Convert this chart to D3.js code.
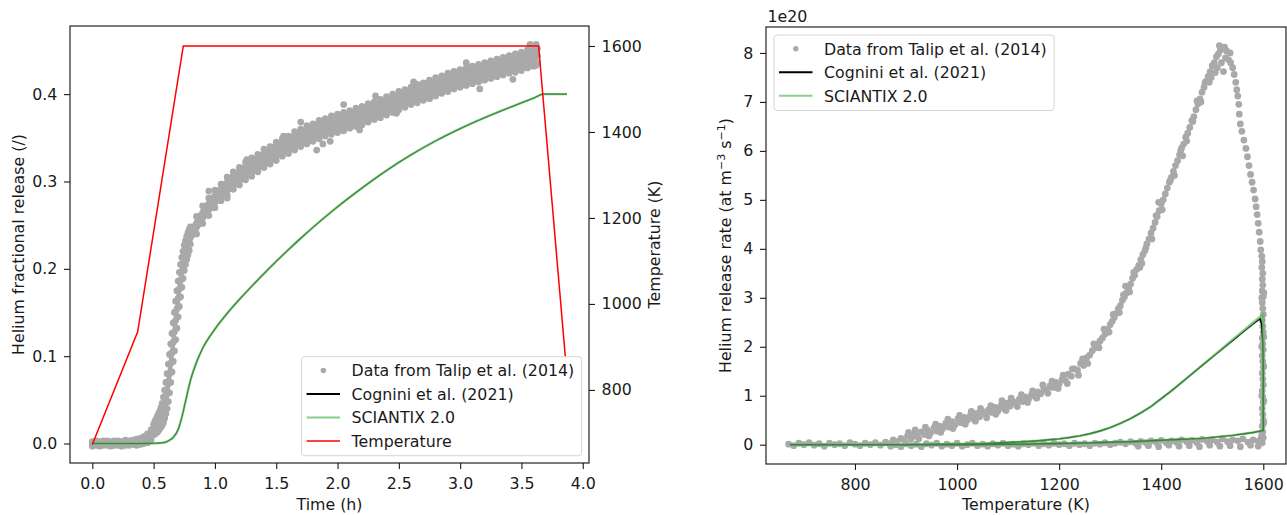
<!DOCTYPE html>
<html>
<head>
<meta charset="utf-8">
<script src="https://cdn.jsdelivr.net/npm/d3@7"></script>
<style>
body { margin: 0; background: #fff; }
svg { font-family: "DejaVu Sans", sans-serif; }
</style>
</head>
<body>
<svg id="chart" width="1287" height="515"></svg>
<script>
//---- values ----

// left panel: Talip et al. (2014) points, read as lower edge / middle / upper edge of the band at each time (h)
var talipTime = [0.00,0.03,0.06,0.09,0.12,0.15,0.18,0.21,0.24,0.27,0.30,0.33,0.36,0.39,0.42,0.45,0.48,
	0.50,0.51,0.52,0.53,0.54,0.55,0.56,0.57,0.58,0.59,0.60,0.61,0.62,0.63,0.64,0.65,0.66,0.67,0.68,0.69,0.70,0.71,0.72,0.73,0.74,0.75,0.76,0.77,0.78,0.79,
	0.80,0.85,0.90,0.95,1.00,1.05,1.10,1.15,1.20,1.25,
	1.30,1.35,1.40,1.45,1.50,1.55,1.60,1.65,1.70,1.75,
	1.80,1.85,1.90,1.95,2.00,2.05,2.10,2.15,2.20,2.25,
	2.30,2.35,2.40,2.45,2.50,2.55,2.60,2.65,2.70,2.75,
	2.80,2.85,2.90,2.95,3.00,3.05,3.10,3.15,3.20,3.25,
	3.30,3.35,3.40,3.45,3.50,3.55,3.60,3.62,3.63];
var talipLow = [-0.003,-0.002,-0.003,-0.002,-0.002,-0.003,-0.002,-0.002,-0.003,-0.002,-0.002,-0.001,-0.002,-0.001,0.000,0.001,0.004,
	.010,.011,.012,.013,.015,.017,.019,.021,.024,.029,.034,.040,.048,.058,.070,.082,.094,.106,.119,.132,.145,.157,.168,.179,.189,.198,.205,.211,.216,.221,
	.228,.240,.252,.261,.270,.278,.284,.291,.296,.302,
	.306,.311,.316,.320,.324,.329,.332,.336,.340,.343,
	.346,.349,.352,.354,.356,.358,.361,.363,.365,.368,
	.371,.373,.376,.379,.382,.385,.388,.390,.393,.395,
	.398,.401,.403,.406,.408,.410,.412,.414,.416,.418,
	.420,.422,.424,.425,.427,.430,.432,.433,.436];
var talipMid = [0.000,0.000,-0.001,0.000,0.001,0.000,0.000,0.001,0.000,0.001,0.001,0.002,0.002,0.003,0.004,0.006,0.010,
	.016,.018,.020,.022,.024,.027,.030,.033,.038,.045,.052,.060,.069,.080,.092,.104,.116,.128,.141,.154,.166,.177,.187,.197,.206,.214,.220,.225,.229,.233,
	.238,.251,.262,.272,.280,.288,.295,.301,.307,.312,
	.317,.322,.327,.331,.335,.339,.343,.347,.351,.354,
	.357,.360,.362,.365,.367,.369,.371,.374,.376,.379,
	.381,.384,.387,.390,.393,.396,.398,.401,.403,.406,
	.409,.411,.414,.416,.418,.420,.422,.424,.426,.428,
	.430,.432,.434,.435,.437,.440,.443,.445,.444];
var talipHigh = [0.002,0.003,0.002,0.003,0.003,0.002,0.003,0.003,0.002,0.004,0.003,0.004,0.005,0.006,0.008,0.011,0.016,
	.022,.025,.028,.031,.034,.037,.041,.046,.053,.061,.070,.080,.091,.102,.114,.126,.138,.150,.163,.175,.186,.196,.205,.213,.220,.227,.232,.237,.241,.245,
	.248,.260,.272,.281,.290,.297,.305,.311,.316,.322,
	.327,.331,.337,.340,.345,.349,.352,.357,.360,.364,
	.366,.370,.372,.375,.377,.379,.381,.384,.386,.389,
	.391,.394,.397,.400,.403,.405,.408,.411,.413,.416,
	.419,.421,.424,.426,.428,.430,.432,.434,.436,.438,
	.440,.442,.444,.446,.448,.451,.454,.457,.452];
// stray points off the band [time, release]
var talipStray = [[0.95,0.289],[1.10,0.281],[1.26,0.325],[1.56,0.352],[1.70,0.368],[1.83,0.336],[1.88,0.343],[1.94,0.346],
	[2.05,0.388],[2.18,0.359],[2.31,0.398],[2.48,0.378],[2.62,0.414],[2.75,0.395],[3.05,0.436],[3.16,0.406],[3.43,0.417],[3.57,0.457]];

var modelTime = [0,0.30,0.50,0.58,0.62,0.66,0.70,0.73,0.76,0.80,0.85,0.90,1.00,1.10,1.20,1.30,1.40,1.50,1.60,1.70,1.80,1.90,2.00,2.20,2.40,2.60,2.80,3.00,3.20,3.40,3.60,3.68,3.87];
var cogniniRelease = [0,0,0.0003,0.001,0.003,0.007,0.016,0.030,0.048,0.072,0.093,0.109,0.131,0.149,0.165,0.180,0.1945,0.2085,0.222,0.235,0.2475,0.2595,0.271,0.2925,0.3125,0.3305,0.3465,0.3605,0.373,0.3845,0.3955,0.400,0.400];
var sciantixRelease = [0,0,0.0003,0.001,0.003,0.007,0.016,0.030,0.048,0.072,0.093,0.109,0.131,0.149,0.165,0.180,0.1945,0.2085,0.222,0.235,0.2475,0.2595,0.271,0.2925,0.3125,0.3305,0.3465,0.3605,0.373,0.3845,0.3955,0.400,0.400];

var tempTime = [0, 0.37, 0.742, 3.64, 3.858];
var tempK = [673, 935, 1600, 1600, 877];

var timeTicks = [0, 0.5, 1, 1.5, 2, 2.5, 3, 3.5, 4];
var fracTicks = [0, 0.1, 0.2, 0.3, 0.4];
var tempTicks = [800, 1000, 1200, 1400, 1600];

// right panel: release rate (1e20 at m-3 s-1) against temperature (K)
var talipRate = [
	// ramp start and cool-down, near zero
	[670,0.01],[680,-0.02],[690,0.03],[700,0.0],[710,0.04],[720,-0.01],[730,0.02],[740,-0.03],[750,0.03],[760,0.0],[770,0.02],[780,-0.02],[790,0.04],[800,0.01],[810,-0.02],[820,0.03],[830,0.0],[840,0.04],[850,-0.01],
	[870,-0.03],[880,0.0],[890,-0.04],[900,0.02],[910,-0.02],[920,0.01],[930,-0.04],[940,0.02],[950,-0.01],[960,0.03],[970,-0.03],[980,0.01],[990,-0.02],[1000,0.03],[1010,-0.03],[1020,0.0],[1030,0.03],[1040,-0.02],[1050,0.01],[1060,-0.03],
	[1070,0.02],[1080,-0.01],[1090,0.03],[1100,-0.02],[1110,0.01],[1120,-0.03],[1130,0.02],[1140,0.0],[1150,0.03],[1160,-0.02],[1170,0.02],[1180,-0.01],[1190,0.03],[1200,0.0],[1210,0.02],[1220,-0.02],[1230,0.03],[1240,0.0],[1250,0.02],[1260,-0.02],
	[1270,0.03],[1280,0.01],[1290,0.04],[1300,0.0],[1310,0.03],[1320,0.05],[1330,0.02],[1340,0.06],[1350,0.03],[1360,0.07],[1370,0.04],[1380,0.08],[1390,0.05],[1400,0.09],[1410,0.04],[1420,0.08],[1430,0.05],[1440,0.10],[1450,0.06],[1460,0.09],
	[1470,0.04],[1480,0.11],[1490,0.07],[1500,0.10],[1510,0.05],[1520,0.12],[1530,0.06],[1540,0.10],[1550,0.08],[1560,0.12],[1570,0.05],[1580,0.10],[1590,0.07],[1595,0.12],
	[1355,-0.03],[1375,-0.02],[1395,-0.04],[1415,-0.01],[1435,-0.03],[1455,-0.02],[1475,-0.04],[1495,-0.01],[1515,-0.03],[1535,-0.02],[1555,-0.04],[1575,-0.01],[1590,-0.03],
	// heating ramp
	[860,0.05],[868,0.02],[875,0.10],[882,0.06],[890,0.13],[896,0.09],[903,0.18],[910,0.12],[916,0.22],[922,0.17],[930,0.26],[936,0.21],[942,0.30],[948,0.24],[955,0.35],[960,0.28],[966,0.38],[972,0.33],[978,0.44],[984,0.36],
	[990,0.47],[996,0.41],[1002,0.53],[1008,0.45],[1014,0.56],[1020,0.50],[1026,0.60],[1032,0.53],[1038,0.64],[1044,0.57],[1050,0.68],[1056,0.62],[1062,0.71],[1068,0.66],[1074,0.76],[1080,0.69],[1086,0.80],[1092,0.74],[1098,0.85],[1104,0.79],
	[1110,0.88],[1116,0.83],[1122,0.93],[1128,0.88],[1134,0.97],[1140,0.93],[1146,1.02],[1152,0.99],[1158,1.08],[1164,1.04],[1170,1.14],[1176,1.10],[1182,1.20],[1188,1.17],[1194,1.27],[1200,1.24],[1206,1.34],[1212,1.31],[1218,1.44],[1224,1.40],
	[1230,1.55],[1236,1.52],[1242,1.66],[1248,1.62],[1254,1.78],[1260,1.83],[1265,1.92],[1270,1.98],[1275,2.05],[1280,2.12],[1285,2.18],[1290,2.26],[1295,2.35],[1300,2.45],
	[1304,2.52],[1308,2.60],[1312,2.68],[1316,2.78],[1320,2.84],[1324,2.95],[1328,3.02],[1332,3.10],[1336,3.20],[1340,3.28],[1344,3.40],[1348,3.46],[1352,3.58],[1356,3.66],[1360,3.78],[1364,3.88],[1368,3.96],[1372,4.10],[1376,4.20],[1380,4.32],
	[1384,4.42],[1388,4.54],[1392,4.66],[1396,4.78],[1400,4.92],[1404,5.00],[1408,5.12],[1412,5.24],[1416,5.36],[1420,5.46],[1424,5.58],[1428,5.70],[1432,5.80],[1436,5.92],[1440,6.06],[1444,6.14],[1448,6.28],[1452,6.36],[1456,6.48],[1460,6.62],
	[1464,6.70],[1468,6.84],[1472,6.96],[1476,7.06],[1480,7.20],[1484,7.30],[1488,7.42],[1492,7.52],[1496,7.62],[1500,7.74],[1504,7.80],[1508,7.92],[1512,7.98],[1516,8.06],[1520,8.10],[1524,8.12],[1528,8.04],
	[1330,3.24],[1362,3.70],[1395,4.95],[1442,5.90],[1470,7.02],[1498,7.50],[1510,7.70],[1518,7.80],[1522,7.62],[1526,7.90],[1532,7.86],[1535,8.00],[1514,8.15],[1506,7.60],
	// looser points either side of the ramp
	[905,0.25],[918,0.30],[925,0.12],[938,0.36],[945,0.18],[958,0.42],[968,0.25],[982,0.52],[992,0.33],[1005,0.60],[1016,0.42],[1028,0.68],[1036,0.48],[1046,0.74],[1058,0.55],[1066,0.80],[1076,0.62],[1088,0.90],[1096,0.70],[1106,0.95],
	[1118,0.78],[1126,1.02],[1138,0.86],[1148,1.10],[1156,0.95],[1168,1.22],[1178,1.05],[1186,1.30],[1198,1.15],[1208,1.42],[1216,1.25],[1226,1.55],[1238,1.42],[1246,1.75],[1256,1.66],[1268,2.06],[1278,1.98],[1288,2.36],[1298,2.30],[1306,2.66],
	[1318,2.70],[1326,3.06],[1338,3.12],[1346,3.52],[1358,3.62],[1370,4.02],[1382,4.20],[1390,4.68],[1402,4.80],[1418,5.40],[1426,5.50],[1438,6.00],[1450,6.20],[1462,6.60],[1478,7.00],[1486,7.40],[1494,7.40],
	// past the peak, up to the hold
	[1536,7.80],[1540,7.70],[1543,7.56],[1546,7.40],[1548,7.25],[1550,7.12],[1552,6.95],[1553,6.75],[1555,6.55],[1558,6.40],[1562,6.22],[1566,6.05],[1569,5.88],[1572,5.70],[1575,5.52],[1578,5.36],[1581,5.20],[1584,5.02],[1586,4.86],[1588,4.70],
	[1590,4.52],[1592,4.34],[1594,4.15],[1595,3.98],
	// hold at 1600 K
	[1597,3.85],[1598,3.74],[1597,3.62],[1599,3.50],[1598,3.38],[1599,3.26],[1598,3.14],[1600,3.02],[1598,2.90],[1599,2.78],[1600,2.66],[1598,2.54],[1599,2.42],[1600,2.30],[1598,2.18],[1599,2.06],[1600,1.94],[1598,1.82],[1599,1.70],[1600,1.58],
	[1598,1.46],[1599,1.34],[1600,1.22],[1598,1.10],[1599,0.98],[1600,0.86],[1598,0.74],[1599,0.62],[1600,0.50],[1598,0.38],[1599,0.26],[1600,0.14],[1598,0.04],[1601,0.90],[1601,0.45],[1601,1.60],[1601,2.20],[1601,3.10],
	[1597,0.20],[1597,1.00],[1597,2.00],[1597,3.00]
];

// model curves: heating ramp up to 1600 K, hold, then cool-down
var cogniniT = [673,800,900,1000,1050,1100,1120,1140,1160,1180,1200,1220,1240,1260,1280,1300,1320,1340,1360,1380,1400,1420,1440,1460,1480,1500,1520,1540,1560,1580,1590,1594,1597,1599,1600,1600,
	1580,1560,1540,1520,1500,1480,1460,1440,1420,1400,1380,1360,1340,1300,1250,1200,1150,1100,1000,870];
var cogniniRate = [0,0,0.002,0.01,0.02,0.045,0.055,0.067,0.082,0.10,0.120,0.146,0.180,0.224,0.280,0.350,0.435,0.535,0.650,0.780,0.940,1.100,1.270,1.445,1.615,1.785,1.955,2.125,2.295,2.465,2.545,2.570,2.450,2.100,1.600,0.29,
	0.25,0.22,0.19,0.17,0.15,0.13,0.12,0.11,0.10,0.09,0.08,0.07,0.06,0.05,0.035,0.025,0.015,0.008,0,0];
var sciantixT = [673,800,900,1000,1050,1100,1120,1140,1160,1180,1200,1220,1240,1260,1280,1300,1320,1340,1360,1380,1400,1420,1440,1460,1480,1500,1520,1540,1560,1580,1590,1600,1600,
	1580,1560,1540,1520,1500,1480,1460,1440,1420,1400,1380,1360,1340,1300,1250,1200,1150,1100,1000,870];
var sciantixRate = [0,0,0.002,0.01,0.02,0.045,0.055,0.067,0.082,0.10,0.120,0.146,0.180,0.224,0.280,0.350,0.435,0.535,0.650,0.780,0.940,1.100,1.270,1.445,1.620,1.795,1.970,2.145,2.320,2.495,2.580,2.665,0.29,
	0.25,0.22,0.19,0.17,0.15,0.13,0.12,0.11,0.10,0.09,0.08,0.07,0.06,0.05,0.035,0.025,0.015,0.008,0,0];

var rateTicks = [0, 1, 2, 3, 4, 5, 6, 7, 8];
var kelvinTicks = [800, 1000, 1200, 1400, 1600];

var seriesLabels = ["Data from Talip et al. (2014)", "Cognini et al. (2021)", "SCIANTIX 2.0", "Temperature"];


//---- drawing ----
var FONT = 15.8;
var INK = "#1a1a1a";
var GRAY = "#a9a9a9";
var GREEN = "#55bb55";
var GREEN_OP = 0.7;
var DOT_R = 3.4;

var svg = d3.select("#chart");

// panel boxes in pixels
var L = {left: 70, right: 589, top: 26, bottom: 463};
var R = {left: 766, right: 1286, top: 27, bottom: 464};

var xTime = d3.scaleLinear().domain([-0.182, 4.051]).range([L.left, L.right]);
var yFrac = d3.scaleLinear().domain([-0.0223, 0.478]).range([L.bottom, L.top]);
var yTemp = d3.scaleLinear().domain([630, 1646.5]).range([L.bottom, L.top]);
var xKelvin = d3.scaleLinear().domain([625.7, 1644.5]).range([R.left, R.right]);
var yRate = d3.scaleLinear().domain([-0.394, 8.53]).range([R.bottom, R.top]);

var defs = svg.append("defs");
function clip(id, b) {
	defs.append("clipPath").attr("id", id).append("rect")
		.attr("x", b.left).attr("y", b.top)
		.attr("width", b.right - b.left).attr("height", b.bottom - b.top);
}
clip("clipL", L);
clip("clipR", R);

function styleAxis(g) {
	g.attr("font-size", FONT).attr("font-family", null).attr("color", INK);
	g.select(".domain").remove();
	g.selectAll(".tick line").attr("stroke-width", 1.1);
}

// left panel data
var gl = svg.append("g").attr("clip-path", "url(#clipL)");

// the points are so dense that they merge into one band: fill it, then put the points on top
var band = d3.area()
	.x(function(d, i) { return xTime(talipTime[i]); })
	.y0(function(d, i) { return yFrac(talipLow[i]); })
	.y1(function(d, i) { return yFrac(talipHigh[i]); });
gl.append("path").datum(talipMid)
	.attr("d", band)
	.attr("fill", GRAY);

var bandPts = [];
talipTime.forEach(function(t, i) {
	bandPts.push([t, talipLow[i]], [t, talipMid[i]], [t, talipHigh[i]]);
});
talipStray.forEach(function(p) { bandPts.push(p); });

gl.selectAll("circle.talip")
	.data(bandPts)
	.enter().append("circle")
	.attr("class", "talip")
	.attr("cx", function(d) { return xTime(d[0]); })
	.attr("cy", function(d) { return yFrac(d[1]); })
	.attr("r", DOT_R)
	.attr("fill", GRAY);

var fracLine = d3.line()
	.curve(d3.curveMonotoneX)
	.x(function(d, i) { return xTime(modelTime[i]); })
	.y(function(d) { return yFrac(d); });

gl.append("path").datum(cogniniRelease)
	.attr("d", fracLine).attr("fill", "none")
	.attr("stroke", "#000").attr("stroke-width", 1.1);
gl.append("path").datum(sciantixRelease)
	.attr("d", fracLine).attr("fill", "none")
	.attr("stroke", GREEN).attr("stroke-opacity", GREEN_OP).attr("stroke-width", 2.4);

var tempLine = d3.line()
	.x(function(d, i) { return xTime(tempTime[i]); })
	.y(function(d) { return yTemp(d); });
gl.append("path").datum(tempK)
	.attr("d", tempLine).attr("fill", "none")
	.attr("stroke", "#ff0000").attr("stroke-width", 1.5);

// left panel frame and axes
svg.append("rect")
	.attr("x", L.left).attr("y", L.top)
	.attr("width", L.right - L.left).attr("height", L.bottom - L.top)
	.attr("fill", "none").attr("stroke", "#222").attr("stroke-width", 1.2);

svg.append("g")
	.attr("transform", "translate(0," + L.bottom + ")")
	.call(d3.axisBottom(xTime).tickValues(timeTicks).tickFormat(d3.format(".1f")).tickSize(6).tickPadding(8.3))
	.call(styleAxis);

svg.append("g")
	.attr("transform", "translate(" + L.left + ",0)")
	.call(d3.axisLeft(yFrac).tickValues(fracTicks).tickFormat(d3.format(".1f")).tickSize(6).tickPadding(6.6))
	.call(styleAxis);

svg.append("g")
	.attr("transform", "translate(" + L.right + ",0)")
	.call(d3.axisRight(yTemp).tickValues(tempTicks).tickFormat(d3.format("d")).tickSize(6).tickPadding(6.6))
	.call(styleAxis);

svg.append("text")
	.attr("x", (L.left + L.right) / 2).attr("y", 509.5)
	.attr("text-anchor", "middle").attr("font-size", FONT).attr("fill", INK)
	.text("Time (h)");

svg.append("text")
	.attr("transform", "translate(24," + (L.top + L.bottom) / 2 + ") rotate(-90)")
	.attr("text-anchor", "middle").attr("font-size", FONT).attr("fill", INK)
	.text("Helium fractional release (/)");

svg.append("text")
	.attr("transform", "translate(659.5," + (L.top + L.bottom) / 2 + ") rotate(-90)")
	.attr("text-anchor", "middle").attr("font-size", FONT).attr("fill", INK)
	.text("Temperature (K)");

// right panel data
var gr = svg.append("g").attr("clip-path", "url(#clipR)");

gr.selectAll("circle.rate")
	.data(talipRate)
	.enter().append("circle")
	.attr("class", "rate")
	.attr("cx", function(d) { return xKelvin(d[0]); })
	.attr("cy", function(d) { return yRate(d[1]); })
	.attr("r", DOT_R)
	.attr("fill", GRAY);

var cogniniLine = d3.line()
	.x(function(d, i) { return xKelvin(cogniniT[i]); })
	.y(function(d) { return yRate(d); });
var sciantixLine = d3.line()
	.x(function(d, i) { return xKelvin(sciantixT[i]); })
	.y(function(d) { return yRate(d); });

gr.append("path").datum(cogniniRate)
	.attr("d", cogniniLine).attr("fill", "none")
	.attr("stroke", "#000").attr("stroke-width", 1.4);
gr.append("path").datum(sciantixRate)
	.attr("d", sciantixLine).attr("fill", "none")
	.attr("stroke", GREEN).attr("stroke-opacity", GREEN_OP).attr("stroke-width", 2.4);

// right panel frame and axes
svg.append("rect")
	.attr("x", R.left).attr("y", R.top)
	.attr("width", R.right - R.left).attr("height", R.bottom - R.top)
	.attr("fill", "none").attr("stroke", "#222").attr("stroke-width", 1.2);

svg.append("g")
	.attr("transform", "translate(0," + R.bottom + ")")
	.call(d3.axisBottom(xKelvin).tickValues(kelvinTicks).tickFormat(d3.format("d")).tickSize(6).tickPadding(8.3))
	.call(styleAxis);

svg.append("g")
	.attr("transform", "translate(" + R.left + ",0)")
	.call(d3.axisLeft(yRate).tickValues(rateTicks).tickFormat(d3.format("d")).tickSize(6).tickPadding(6.6))
	.call(styleAxis);

svg.append("text")
	.attr("x", R.left + 1.5).attr("y", 21.7)
	.attr("font-size", FONT).attr("fill", INK)
	.text("1e20");

svg.append("text")
	.attr("x", (R.left + R.right) / 2).attr("y", 509.5)
	.attr("text-anchor", "middle").attr("font-size", FONT).attr("fill", INK)
	.text("Temperature (K)");

var rl = svg.append("text")
	.attr("transform", "translate(730.5," + (R.top + R.bottom) / 2 + ") rotate(-90)")
	.attr("text-anchor", "middle").attr("font-size", FONT).attr("fill", INK);
rl.append("tspan").text("Helium release rate (at m");
rl.append("tspan").attr("dy", -6).attr("font-size", FONT * 0.7).text("\u22123");
rl.append("tspan").attr("dy", 6).text(" s");
rl.append("tspan").attr("dy", -6).attr("font-size", FONT * 0.7).text("\u22121");
rl.append("tspan").attr("dy", 6).text(")");

// legends
function drawLegend(anchor, items) {
	var rowH = 23.5, padTop = 13.8, padBot = 14.7, textX = 50, padR = 7.5;
	var box = svg.append("g");
	var frame = box.append("rect");
	var widest = 0;
	items.forEach(function(it, i) {
		var cy = padTop + i * rowH;
		var txt = box.append("text")
			.attr("x", textX).attr("y", cy + 5.7)
			.attr("font-size", FONT).attr("fill", INK)
			.text(it.label);
		widest = Math.max(widest, txt.node().getComputedTextLength());
		if (it.dot) {
			box.append("circle").attr("cx", 21.8).attr("cy", cy).attr("r", 2.7).attr("fill", GRAY);
		} else {
			box.append("line")
				.attr("x1", 5).attr("x2", 38.5).attr("y1", cy).attr("y2", cy)
				.attr("stroke", it.color).attr("stroke-width", it.width)
				.attr("stroke-opacity", it.opacity || 1);
		}
	});
	var w = textX + widest + padR;
	var h = padTop + (items.length - 1) * rowH + padBot;
	frame.attr("width", w).attr("height", h).attr("rx", 3)
		.attr("fill", "#fff").attr("fill-opacity", 0.85)
		.attr("stroke", "#d6d6d6").attr("stroke-width", 1);
	var x0 = anchor.right !== undefined ? anchor.right - w : anchor.left;
	var y0 = anchor.bottom !== undefined ? anchor.bottom - h : anchor.top;
	box.attr("transform", "translate(" + x0 + "," + y0 + ")");
}

var legendItems = [
	{label: seriesLabels[0], dot: true},
	{label: seriesLabels[1], color: "#000", width: 2},
	{label: seriesLabels[2], color: GREEN, width: 2, opacity: GREEN_OP},
	{label: seriesLabels[3], color: "#ff0000", width: 1.5}
];
drawLegend({right: L.right - 7.3, bottom: L.bottom - 7.3}, legendItems);
drawLegend({left: R.left + 8, top: R.top + 8}, legendItems.slice(0, 3));
</script>
</body>
</html>
